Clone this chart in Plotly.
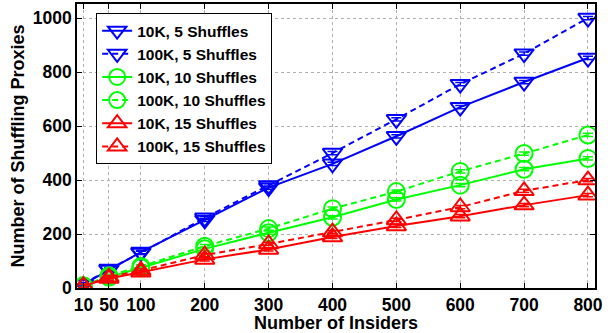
import plotly.graph_objects as go

insiders = [10, 50, 100, 200, 300, 400, 500, 600, 700, 800]
tick_labels = ["10", "50", "100", "200", "300", "400", "500", "600", "700", "800"]

k10_s5 = [13, 67, 133, 252, 372, 460, 562, 670, 763, 852]
k100_s5 = [14, 70, 130, 260, 380, 500, 625, 755, 868, 1000]
k10_s10 = [7, 40, 75, 145, 205, 262, 328, 381, 440, 480]
k100_s10 = [8, 45, 80, 155, 220, 294, 357, 432, 498, 567]
k10_s15 = [8, 35, 58, 106, 143, 189, 230, 266, 307, 344]
k100_s15 = [8, 40, 65, 122, 163, 207, 252, 300, 360, 400]

series = [
    ("10K, 5 Shuffles", k10_s5, "#0000ff", "solid", "triangle-down-open"),
    ("100K, 5 Shuffles", k100_s5, "#0000ff", "6px,4px", "triangle-down-open"),
    ("10K, 10 Shuffles", k10_s10, "#00ff00", "solid", "circle-open"),
    ("100K, 10 Shuffles", k100_s10, "#00ff00", "6px,4px", "circle-open"),
    ("10K, 15 Shuffles", k10_s15, "#ff0000", "solid", "triangle-up-open"),
    ("100K, 15 Shuffles", k100_s15, "#ff0000", "6px,4px", "triangle-up-open"),
]

fig = go.Figure()
for name, vals, color, dash, sym in series:
    fig.add_trace(go.Scatter(
        x=insiders, y=vals, name=name, mode="lines+markers",
        line=dict(color=color, width=2, dash=dash),
        marker=dict(symbol=sym, size=17, color=color, line=dict(color=color, width=2)),
        error_y=dict(type="constant", value=6, color=color, thickness=1.5, width=5),
    ))

font_family = "Liberation Sans, Arial, sans-serif"
axis_common = dict(
    showline=True, linecolor="black", linewidth=1.5, mirror="ticks",
    ticks="inside", ticklen=5, tickcolor="black",
    showgrid=True, gridcolor="#b0b0b0", griddash="dot", gridwidth=1,
    zeroline=False, automargin=True,
    tickfont=dict(family=font_family, size=17.5, color="black", weight="bold"),
)

fig.update_layout(
    width=613, height=333,
    margin=dict(l=77, r=18, t=4, b=45, autoexpand=False),
    paper_bgcolor="white", plot_bgcolor="white",
    font=dict(family=font_family, color="black"),
    showlegend=True,
    legend=dict(
        x=0.037, y=0.968, xanchor="left", yanchor="top",
        bgcolor="white", bordercolor="black", borderwidth=1,
        font=dict(family=font_family, size=15.5, color="black", weight="bold"),
        tracegroupgap=0, itemwidth=30,
    ),
    xaxis=dict(
        range=[0, 811], tickvals=insiders, ticktext=tick_labels,
        title=dict(text="Number of Insiders", standoff=1,
                   font=dict(family=font_family, size=18, color="black", weight="bold")),
        **axis_common,
    ),
    yaxis=dict(
        range=[0, 1052], tickvals=[0, 200, 400, 600, 800, 1000],
        title=dict(text="Number of Shuffling Proxies", standoff=4,
                   font=dict(family=font_family, size=18, color="black", weight="bold")),
        **axis_common,
    ),
)

fig.write_html("out.html", config={"displayModeBar": False},
               post_script="document.body.style.margin='0px';")
